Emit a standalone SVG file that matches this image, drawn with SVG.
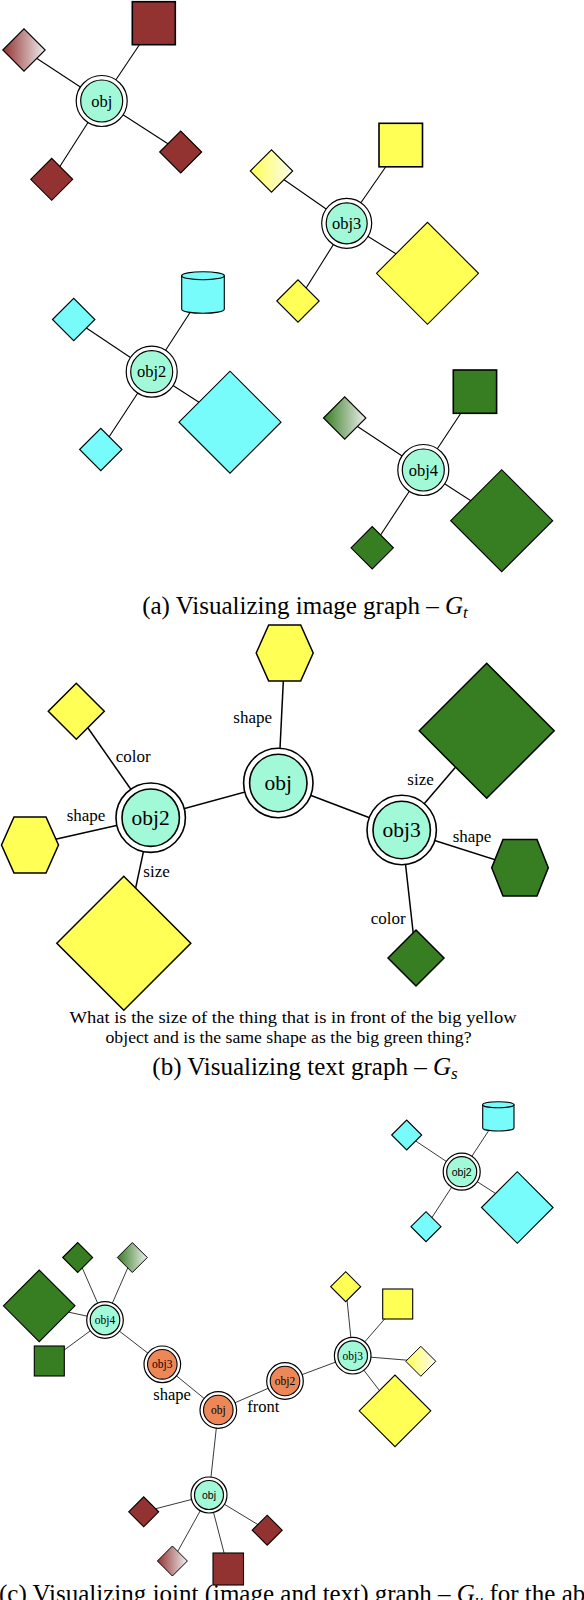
<svg xmlns="http://www.w3.org/2000/svg" width="584" height="1600" viewBox="0 0 584 1600">
<style>
.bg{fill:#ffffff}
.ln{stroke:#000;stroke-width:1.1;fill:none}
.lnb{stroke:#000;stroke-width:1.5;fill:none}
.lnc{stroke:#222;stroke-width:0.9;fill:none}
.ring{fill:#fff;stroke:#000;stroke-width:1.2}
.ringb{fill:#fff;stroke:#000;stroke-width:1.6}
.teal{fill:#a2f9d8;stroke:#000;stroke-width:1.2}
.tealb{fill:#a2f9d8;stroke:#000;stroke-width:1.6}
.orng{fill:#ee8757;stroke:#000;stroke-width:1.1}
.red{fill:#933331;stroke:#000;stroke-width:1.1}
.yel{fill:#ffff55;stroke:#000;stroke-width:1.1}
.cyn{fill:#77fbfb;stroke:#000;stroke-width:1.1}
.grn{fill:#377d22;stroke:#000;stroke-width:1.1}
.yelb{fill:#ffff55;stroke:#000;stroke-width:1.5}
.grnb{fill:#377d22;stroke:#000;stroke-width:1.5}
.sq{stroke-width:1.6}
.lbl{font-family:"Liberation Serif","Times New Roman",serif;fill:#000}
.na{font-size:16.5px;text-anchor:middle}
.nb{font-size:21.5px;text-anchor:middle}
.nc{font-size:11.5px;text-anchor:middle}
.ncs{font-family:"Liberation Sans",Arial,sans-serif;font-size:10.5px;text-anchor:middle;fill:#000}
.el{font-size:17px}
.cap{font-size:25px}
.q{font-size:17px;text-anchor:middle}
</style>
<defs>
<linearGradient id="gRed" x1="0" y1="0" x2="1" y2="0"><stop offset="0" stop-color="#933331"/><stop offset="1" stop-color="#eeeeee"/></linearGradient>
<linearGradient id="gYel" x1="0" y1="0" x2="1" y2="0"><stop offset="0" stop-color="#ffff55"/><stop offset="1" stop-color="#fbfbee"/></linearGradient>
<linearGradient id="gGrn" x1="0" y1="0" x2="1" y2="0"><stop offset="0" stop-color="#377d22"/><stop offset="1" stop-color="#eeeeee"/></linearGradient>
</defs>
<rect class="bg" x="0" y="0" width="584" height="1600"/>

<g id="connectors">
<!-- (a) -->
<line class="ln" x1="101.7" y1="101" x2="153.8" y2="23.2"/>
<line class="ln" x1="101.7" y1="101" x2="24" y2="50"/>
<line class="ln" x1="101.7" y1="101" x2="180.7" y2="152"/>
<line class="ln" x1="101.7" y1="101" x2="51.7" y2="179.3"/>
<line class="ln" x1="346.7" y1="223.3" x2="400.8" y2="145"/>
<line class="ln" x1="346.7" y1="223.3" x2="271.5" y2="171"/>
<line class="ln" x1="346.7" y1="223.3" x2="298" y2="301"/>
<line class="ln" x1="346.7" y1="223.3" x2="427.5" y2="273.3"/>
<line class="ln" x1="151.7" y1="371.7" x2="203" y2="292.5"/>
<line class="ln" x1="151.7" y1="371.7" x2="73.7" y2="319.5"/>
<line class="ln" x1="151.7" y1="371.7" x2="100.8" y2="449.5"/>
<line class="ln" x1="151.7" y1="371.7" x2="230" y2="422.2"/>
<line class="ln" x1="423.3" y1="470" x2="475" y2="391.7"/>
<line class="ln" x1="423.3" y1="470" x2="344.7" y2="418"/>
<line class="ln" x1="423.3" y1="470" x2="372.2" y2="547.8"/>
<line class="ln" x1="423.3" y1="470" x2="501.7" y2="520.7"/>
<!-- (b) -->
<line class="lnb" x1="278.3" y1="783" x2="150.7" y2="817.7"/>
<line class="lnb" x1="278.3" y1="783" x2="401.7" y2="830"/>
<line class="lnb" x1="278.3" y1="783" x2="284.7" y2="653"/>
<line class="lnb" x1="150.7" y1="817.7" x2="76.3" y2="711.3"/>
<line class="lnb" x1="150.7" y1="817.7" x2="30" y2="845"/>
<line class="lnb" x1="150.7" y1="817.7" x2="123.8" y2="943.3"/>
<line class="lnb" x1="401.7" y1="830" x2="486.7" y2="730.8"/>
<line class="lnb" x1="401.7" y1="830" x2="520" y2="867.7"/>
<line class="lnb" x1="401.7" y1="830" x2="416" y2="958"/>
<!-- (c) -->
<line class="lnc" x1="461.7" y1="1171.7" x2="498.3" y2="1116"/>
<line class="lnc" x1="461.7" y1="1171.7" x2="406.7" y2="1135"/>
<line class="lnc" x1="461.7" y1="1171.7" x2="426" y2="1226.7"/>
<line class="lnc" x1="461.7" y1="1171.7" x2="517.3" y2="1207.5"/>
<line class="lnc" x1="105" y1="1320" x2="77.7" y2="1257.5"/>
<line class="lnc" x1="105" y1="1320" x2="132.3" y2="1257.5"/>
<line class="lnc" x1="105" y1="1320" x2="39.2" y2="1305.8"/>
<line class="lnc" x1="105" y1="1320" x2="49.3" y2="1361"/>
<line class="lnc" x1="105" y1="1320" x2="162.3" y2="1364.3"/>
<line class="lnc" x1="162.3" y1="1364.3" x2="218.3" y2="1410"/>
<line class="lnc" x1="218.3" y1="1410" x2="285" y2="1381"/>
<line class="lnc" x1="285" y1="1381" x2="352.7" y2="1355.7"/>
<line class="lnc" x1="352.7" y1="1355.7" x2="345.7" y2="1286.7"/>
<line class="lnc" x1="352.7" y1="1355.7" x2="397.7" y2="1304"/>
<line class="lnc" x1="352.7" y1="1355.7" x2="420.8" y2="1361.3"/>
<line class="lnc" x1="352.7" y1="1355.7" x2="395" y2="1410.8"/>
<line class="lnc" x1="218.3" y1="1410" x2="209" y2="1495"/>
<line class="lnc" x1="209" y1="1495" x2="143.7" y2="1511.8"/>
<line class="lnc" x1="209" y1="1495" x2="172.4" y2="1561"/>
<line class="lnc" x1="209" y1="1495" x2="228" y2="1568"/>
<line class="lnc" x1="209" y1="1495" x2="267.2" y2="1530.2"/>
</g>

<!-- ===== (a) image graph ===== -->
<g id="a-obj-attrs">
<rect class="red sq" x="132.3" y="1.7" width="43" height="43"/>
<polygon fill="url(#gRed)" stroke="#000" stroke-width="1.1" points="2.8,50 24,28.8 45.2,50 24,71.2"/>
<polygon class="red" points="159.7,152 180.7,131 201.7,152 180.7,173"/>
<polygon class="red" points="30.7,179.3 51.7,158.3 72.7,179.3 51.7,200.3"/>
</g>
<g id="a-obj"><circle class="ring" cx="101.7" cy="101" r="25.5"/><circle class="teal" cx="101.7" cy="101" r="21"/><text class="lbl na" x="101.7" y="106.5">obj</text></g>

<g id="a-obj3-attrs">
<rect class="yel sq" x="379" y="123.3" width="43.5" height="43.5"/>
<polygon fill="url(#gYel)" stroke="#000" stroke-width="1.1" points="250.3,171 271.5,149.8 292.7,171 271.5,192.2"/>
<polygon class="yel" points="276.8,301 298,279.8 319.2,301 298,322.2"/>
<polygon class="yel" points="376.5,273.3 427.5,222.3 478.5,273.3 427.5,324.3"/>
</g>
<g id="a-obj3"><circle class="ring" cx="346.7" cy="223.3" r="25"/><circle class="teal" cx="346.7" cy="223.3" r="20.5"/><text class="lbl na" x="346.7" y="228.8">obj3</text></g>

<g id="a-obj2-attrs">
<path class="cyn" d="M181.7,275.7 L181.7,309.3 A21.3,4 0 0 0 224.3,309.3 L224.3,275.7 Z"/>
<ellipse class="cyn" cx="203" cy="275.7" rx="21.3" ry="4"/>
<polygon class="cyn" points="52.5,319.5 73.7,298.3 94.9,319.5 73.7,340.7"/>
<polygon class="cyn" points="79.6,449.5 100.8,428.3 122,449.5 100.8,470.7"/>
<polygon class="cyn" points="179,422.2 230,371.2 281,422.2 230,473.2"/>
</g>
<g id="a-obj2"><circle class="ring" cx="151.7" cy="371.7" r="25.5"/><circle class="teal" cx="151.7" cy="371.7" r="21"/><text class="lbl na" x="151.7" y="377.2">obj2</text></g>

<g id="a-obj4-attrs">
<rect class="grn sq" x="453.3" y="370" width="43.3" height="43.3"/>
<polygon fill="url(#gGrn)" stroke="#000" stroke-width="1.1" points="323.5,418 344.7,396.8 365.9,418 344.7,439.2"/>
<polygon class="grn" points="351,547.8 372.2,526.6 393.4,547.8 372.2,569"/>
<polygon class="grn" points="450.7,520.7 501.7,469.7 552.7,520.7 501.7,571.7"/>
</g>
<g id="a-obj4"><circle class="ring" cx="423.3" cy="470" r="25.5"/><circle class="teal" cx="423.3" cy="470" r="21"/><text class="lbl na" x="423.3" y="475.5">obj4</text></g>

<text class="lbl cap" x="305" y="614" text-anchor="middle">(a) Visualizing image graph – <tspan font-style="italic">G</tspan><tspan font-style="italic" font-size="17" dy="4">t</tspan></text>

<!-- ===== (b) text graph ===== -->
<g id="b-attrs">
<polygon class="yelb" points="256.2,653 268.7,625 300.7,625 313.2,653 300.7,681 268.7,681"/>
<polygon class="yelb" points="48.3,711.3 76.3,683.3 104.3,711.3 76.3,739.3"/>
<polygon class="yelb" points="1.5,845 14,817 46,817 58.5,845 46,873 14,873"/>
<polygon class="yelb" points="56.8,943.3 123.8,876.3 190.8,943.3 123.8,1010.3"/>
<polygon class="grnb" points="419.2,730.8 486.7,663.3 554.2,730.8 486.7,798.3"/>
<polygon class="grnb" points="491.7,867.7 503,839.5 537,839.5 548.3,867.7 537,896 503,896"/>
<polygon class="grnb" points="388,958 416,930 444,958 416,986"/>
</g>
<g id="b-labels">
<text class="lbl el" x="233.3" y="722.7">shape</text>
<text class="lbl el" x="115.7" y="762">color</text>
<text class="lbl el" x="66.7" y="820.5">shape</text>
<text class="lbl el" x="143.3" y="877">size</text>
<text class="lbl el" x="407.3" y="785">size</text>
<text class="lbl el" x="452.7" y="842">shape</text>
<text class="lbl el" x="370.7" y="924">color</text>
</g>
<g id="b-obj"><circle class="ringb" cx="278.3" cy="783" r="34.7"/><circle class="tealb" cx="278.3" cy="783" r="28.7"/><text class="lbl nb" x="278.3" y="790">obj</text></g>
<g id="b-obj2"><circle class="ringb" cx="150.7" cy="817.7" r="34.7"/><circle class="tealb" cx="150.7" cy="817.7" r="28.7"/><text class="lbl nb" x="150.7" y="824.7">obj2</text></g>
<g id="b-obj3"><circle class="ringb" cx="401.7" cy="830" r="34.7"/><circle class="tealb" cx="401.7" cy="830" r="28.7"/><text class="lbl nb" x="401.7" y="837">obj3</text></g>

<text class="lbl q" x="293" y="1023" textLength="447" lengthAdjust="spacingAndGlyphs">What is the size of the thing that is in front of the big yellow</text>
<text class="lbl q" x="288.5" y="1042.5" textLength="366" lengthAdjust="spacingAndGlyphs">object and is the same shape as the big green thing?</text>

<text class="lbl cap" x="305" y="1075" text-anchor="middle">(b) Visualizing text graph – <tspan font-style="italic">G</tspan><tspan font-style="italic" font-size="17" dy="4">s</tspan></text>

<!-- ===== (c) joint graph ===== -->
<g id="c-obj2-attrs">
<path class="cyn" d="M482.7,1104.7 L482.7,1128 A15.65,3 0 0 0 514,1128 L514,1104.7 Z"/>
<ellipse class="cyn" cx="498.3" cy="1104.7" rx="15.65" ry="3"/>
<polygon class="cyn" points="391.7,1135 406.7,1120 421.7,1135 406.7,1150"/>
<polygon class="cyn" points="411,1226.7 426,1211.7 441,1226.7 426,1241.7"/>
<polygon class="cyn" points="481.5,1207.5 517.3,1171.7 553.1,1207.5 517.3,1243.3"/>
</g>
<g id="c-obj2"><circle class="ring" cx="461.7" cy="1171.7" r="18.5"/><circle class="teal" cx="461.7" cy="1171.7" r="15"/><text class="ncs" x="461.7" y="1175.5">obj2</text></g>

<g id="c-obj4-attrs">
<polygon class="grn" points="62.7,1257.5 77.7,1242.5 92.7,1257.5 77.7,1272.5"/>
<polygon fill="url(#gGrn)" stroke="#000" stroke-width="1" points="117.3,1257.5 132.3,1242.5 147.3,1257.5 132.3,1272.5"/>
<polygon class="grn" points="3.4,1305.8 39.2,1270 75,1305.8 39.2,1341.6"/>
<rect class="grn" x="34.3" y="1346" width="30" height="30"/>
</g>
<g id="c-obj4"><circle class="ring" cx="105" cy="1320" r="18.3"/><circle class="teal" cx="105" cy="1320" r="14.8"/><text class="lbl nc" x="105" y="1324">obj4</text></g>

<g id="c-obj3-attrs">
<polygon class="yel" points="330.7,1286.7 345.7,1271.7 360.7,1286.7 345.7,1301.7"/>
<rect class="yel" x="382.7" y="1289" width="30" height="30"/>
<polygon fill="url(#gYel)" stroke="#000" stroke-width="1" points="405.8,1361.3 420.8,1346.3 435.8,1361.3 420.8,1376.3"/>
<polygon class="yel" points="359.2,1410.8 395,1375 430.8,1410.8 395,1446.6"/>
</g>
<g id="c-obj3"><circle class="ring" cx="352.7" cy="1355.7" r="18.3"/><circle class="teal" cx="352.7" cy="1355.7" r="14.8"/><text class="lbl nc" x="352.7" y="1359.7">obj3</text></g>

<g id="c-q-obj3"><circle class="ring" cx="162.3" cy="1364.3" r="18.3"/><circle class="orng" cx="162.3" cy="1364.3" r="14.8"/><text class="lbl nc" x="162.3" y="1368.3">obj3</text></g>
<g id="c-q-obj"><circle class="ring" cx="218.3" cy="1410" r="18.3"/><circle class="orng" cx="218.3" cy="1410" r="14.8"/><text class="lbl nc" x="218.3" y="1414">obj</text></g>
<g id="c-q-obj2"><circle class="ring" cx="285" cy="1381" r="18.3"/><circle class="orng" cx="285" cy="1381" r="14.8"/><text class="lbl nc" x="285" y="1385">obj2</text></g>
<text class="lbl" font-size="16.5" x="153.3" y="1400">shape</text>
<text class="lbl" font-size="16.5" x="247.3" y="1411.7">front</text>

<g id="c-obj-attrs">
<polygon class="red" points="128.7,1511.8 143.7,1496.8 158.7,1511.8 143.7,1526.8"/>
<polygon fill="url(#gRed)" stroke="#000" stroke-width="1" points="157.4,1561 172.4,1546 187.4,1561 172.4,1576"/>
<rect class="red" x="213" y="1553" width="30.5" height="32"/>
<polygon class="red" points="252.2,1530.2 267.2,1515.2 282.2,1530.2 267.2,1545.2"/>
</g>
<g id="c-obj"><circle class="ring" cx="209" cy="1495" r="18"/><circle class="teal" cx="209" cy="1495" r="14.5"/><text class="ncs" x="209" y="1498.8">obj</text></g>

<text class="lbl cap" x="-1" y="1602">(c) Visualizing joint (image and text) graph – <tspan font-style="italic">G</tspan><tspan font-style="italic" font-size="17" dy="4">u</tspan><tspan dy="-4"> for the ab</tspan></text>
</svg>
